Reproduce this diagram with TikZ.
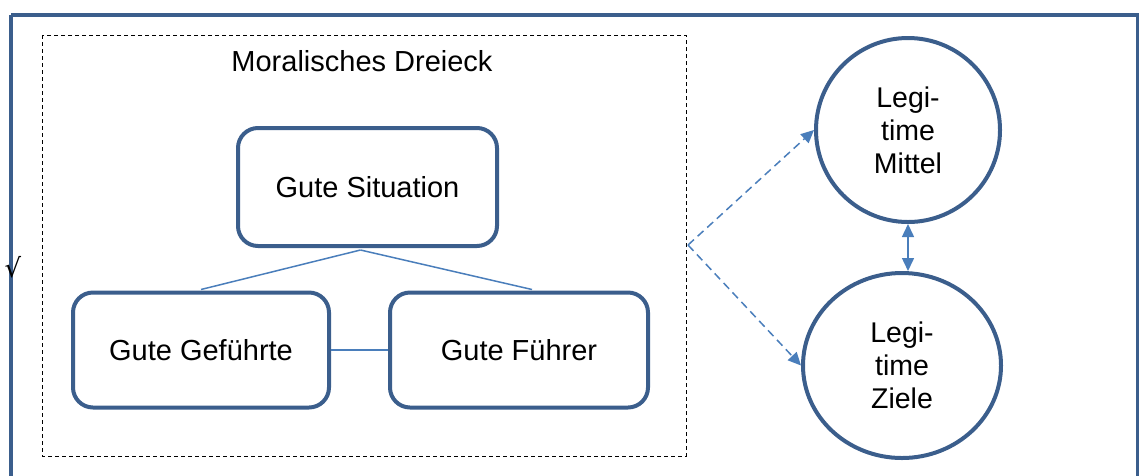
\documentclass[tikz,border=0pt]{standalone}
\usepackage{fontspec}
\setmainfont{Liberation Sans}
\newfontfamily\symfont{DejaVu Sans}
\usetikzlibrary{arrows.meta,shapes.geometric,calc}
\definecolor{frameblue}{HTML}{3B5E8C}
\definecolor{lineblue}{HTML}{4A7EBB}
\tikzset{
  roundbox/.style={draw=frameblue, line width=4pt, rounded corners=20pt, fill=white,
    minimum width=256pt, minimum height=115pt, inner sep=0pt, font=\fontsize{29}{33}\selectfont},
  circnode/.style={draw=frameblue, line width=4pt, circle, minimum size=184pt, inner sep=0pt,
    align=center, font=\fontsize{28.5}{33}\selectfont},
  conn/.style={draw=lineblue, line width=1.5pt},
  dconn/.style={draw=lineblue, line width=1.5pt, dash pattern=on 8pt off 5pt, -{Triangle[length=13pt,width=12pt]}},
}
\begin{document}
\begin{tikzpicture}[x=1pt,y=-1pt]
\useasboundingbox (0,0) rectangle (1139,475);
\draw[frameblue, line width=4pt] (11,15) -- (1137.5,15) -- (1137.5,490) (11,15) -- (11,490);
\draw[black, line width=1pt, dash pattern=on 4pt off 3pt] (42,35) rectangle (686,456);
\node[font=\fontsize{29}{33}\selectfont] (title) at (362,61) {Moralisches Dreieck};
\node[roundbox, minimum width=259pt, minimum height=118pt] (sit) at (367.5,187) {Gute Situation};
\node[roundbox] (gef) at (201,350) {Gute Geführte};
\node[roundbox, minimum width=258pt] (fue) at (519,350) {Gute Führer};
\node[circnode] (mit) at (908,130) {Legi-\\time\\Mittel};
\node[draw=frameblue, line width=4pt, ellipse, inner sep=0pt, align=center, font=\fontsize{28.5}{33}\selectfont, minimum width=198pt, minimum height=185pt] (zie) at (902,365.5) {Legi-\\time\\Ziele};
\node[font=\symfont\fontsize{26}{26}\selectfont, inner sep=0pt] (sq) at (13,267) {√};
\coordinate (src) at (688,245);
\draw[conn] ($(sit.south)+(-7,2)$) -- ($(gef.north)+(0,-1)$);
\draw[conn] ($(sit.south)+(-7,2)$) -- ($(fue.north)+(13,-1)$);
\draw[conn] (gef.east) -- (fue.west);
\draw[dconn] (src) -- (mit.west);
\draw[dconn] (src) -- (zie.west);
\draw[draw=lineblue, line width=1.5pt, {Triangle[length=13pt,width=12pt]}-{Triangle[length=13pt,width=12pt]}] (mit.south) -- (mit.south |- zie.north);
\end{tikzpicture}
\end{document}
